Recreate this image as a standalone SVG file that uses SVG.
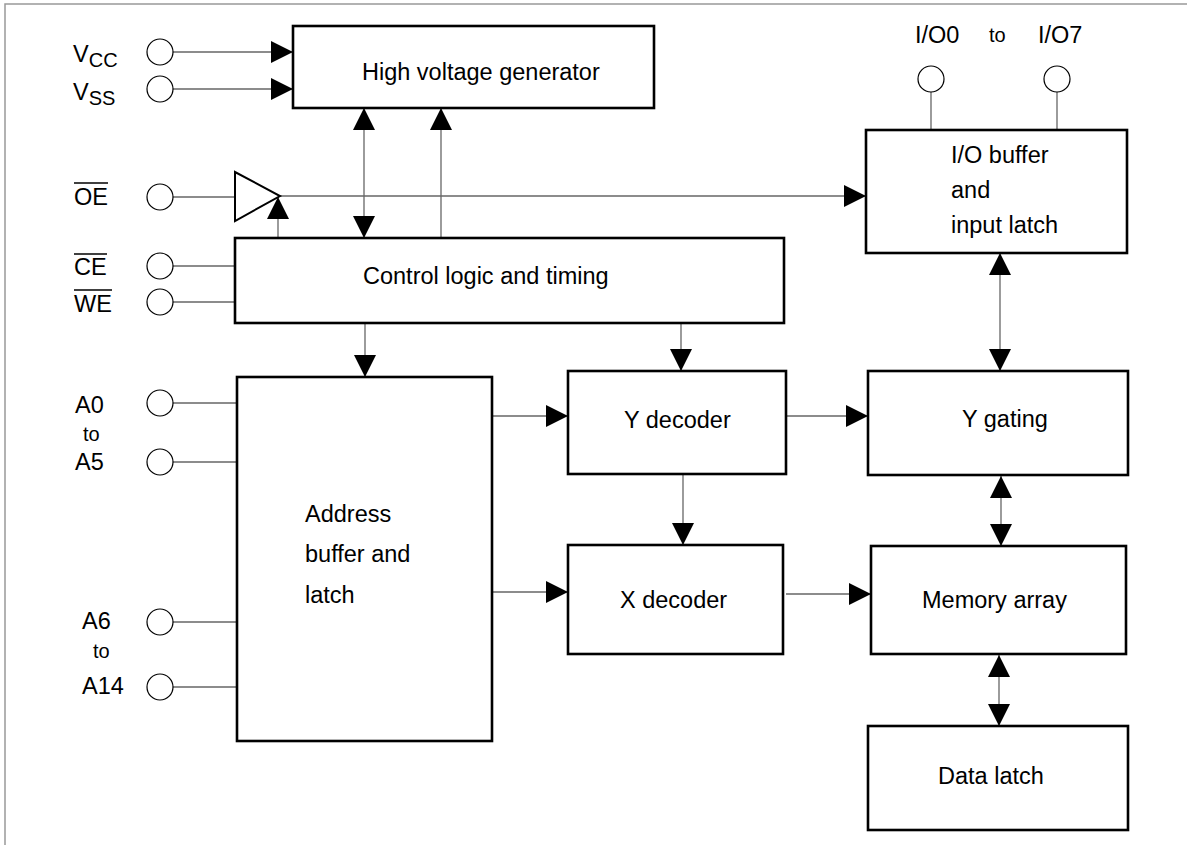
<svg xmlns="http://www.w3.org/2000/svg" width="1187" height="845" viewBox="0 0 1187 845">
<style>
.box{fill:#fff;stroke:#000;stroke-width:2.6}
.pin{fill:#fff;stroke:#000;stroke-width:1.2}
.w{fill:none;stroke:#666;stroke-width:1.3}
.t{font-family:"Liberation Sans",Arial,sans-serif;font-size:23.5px;fill:#000}
.s{font-family:"Liberation Sans",Arial,sans-serif;font-size:20px;fill:#000}
.ov{stroke:#000;stroke-width:1.6}
</style>
<defs>
<marker id="ah" markerUnits="userSpaceOnUse" markerWidth="22" markerHeight="22" refX="22" refY="11" orient="auto-start-reverse" viewBox="0 0 22 22">
<path d="M0,0 L22,11 L0,22 z" fill="#000"/>
</marker>
</defs>
<rect width="1187" height="845" fill="#fff"/>
<path d="M5,845 V4 H1187" fill="none" stroke="#999" stroke-width="1.5"/>

<g id="connectors">
<line class="w" x1="173" y1="52" x2="293" y2="52" marker-end="url(#ah)"/>
<line class="w" x1="173" y1="89" x2="293" y2="89" marker-end="url(#ah)"/>
<line class="w" x1="173" y1="197" x2="235" y2="197"/>
<line class="w" x1="280" y1="196" x2="866" y2="196" marker-end="url(#ah)"/>
<line class="w" x1="278" y1="238" x2="278" y2="197" marker-end="url(#ah)"/>
<line class="w" x1="364" y1="108" x2="364" y2="238" marker-start="url(#ah)" marker-end="url(#ah)"/>
<line class="w" x1="441" y1="238" x2="441" y2="108" marker-end="url(#ah)"/>
<line class="w" x1="173" y1="266" x2="235" y2="266"/>
<line class="w" x1="173" y1="302" x2="235" y2="302"/>
<line class="w" x1="365" y1="323" x2="365" y2="377" marker-end="url(#ah)"/>
<line class="w" x1="681" y1="323" x2="681" y2="371" marker-end="url(#ah)"/>
<line class="w" x1="173" y1="403" x2="237" y2="403"/>
<line class="w" x1="173" y1="462" x2="237" y2="462"/>
<line class="w" x1="173" y1="622" x2="237" y2="622"/>
<line class="w" x1="173" y1="687" x2="237" y2="687"/>
<line class="w" x1="492" y1="416" x2="568" y2="416" marker-end="url(#ah)"/>
<line class="w" x1="492" y1="592" x2="568" y2="592" marker-end="url(#ah)"/>
<line class="w" x1="786" y1="416" x2="868" y2="416" marker-end="url(#ah)"/>
<line class="w" x1="683" y1="474" x2="683" y2="545" marker-end="url(#ah)"/>
<line class="w" x1="786" y1="594" x2="871" y2="594" marker-end="url(#ah)"/>
<line class="w" x1="931" y1="92" x2="931" y2="130"/>
<line class="w" x1="1057" y1="92" x2="1057" y2="130"/>
<line class="w" x1="1000" y1="253" x2="1000" y2="371" marker-start="url(#ah)" marker-end="url(#ah)"/>
<line class="w" x1="1001" y1="476" x2="1001" y2="546" marker-start="url(#ah)" marker-end="url(#ah)"/>
<line class="w" x1="999" y1="655" x2="999" y2="726" marker-start="url(#ah)" marker-end="url(#ah)"/>
</g>

<g id="pins">
<circle class="pin" cx="160" cy="52" r="13"/>
<circle class="pin" cx="160" cy="89" r="13"/>
<circle class="pin" cx="160" cy="197" r="13"/>
<circle class="pin" cx="160" cy="266" r="13"/>
<circle class="pin" cx="160" cy="302" r="13"/>
<circle class="pin" cx="160" cy="403" r="13"/>
<circle class="pin" cx="160" cy="462" r="13"/>
<circle class="pin" cx="160" cy="622" r="13"/>
<circle class="pin" cx="160" cy="687" r="13"/>
<circle class="pin" cx="931" cy="79" r="13"/>
<circle class="pin" cx="1057" cy="79" r="13"/>
</g>

<g id="pin-labels">
<text class="t" x="73" y="62" font-size="25">V<tspan font-size="20" dy="5">CC</tspan></text>
<text class="t" x="73" y="100" font-size="25">V<tspan font-size="20" dy="5">SS</tspan></text>
<text class="t" x="74" y="205">OE</text>
<line class="ov" x1="74" y1="183" x2="108" y2="183"/>
<text class="t" x="74" y="275">CE</text>
<line class="ov" x1="74" y1="254" x2="107" y2="254"/>
<text class="t" x="74" y="312">WE</text>
<line class="ov" x1="74" y1="290" x2="112" y2="290"/>
<text class="t" x="75" y="413">A0</text>
<text class="s" x="83" y="441">to</text>
<text class="t" x="75" y="470">A5</text>
<text class="t" x="82" y="629">A6</text>
<text class="s" x="93" y="658">to</text>
<text class="t" x="82" y="694">A14</text>
<text class="t" x="915" y="43">I/O0</text>
<text class="s" x="989" y="42">to</text>
<text class="t" x="1038" y="43">I/O7</text>
</g>

<g id="hv-gen">
<rect class="box" x="293" y="26" width="361" height="82"/>
<text class="t" x="362" y="80">High voltage generator</text>
</g>

<g id="oe-buffer">
<polygon points="235,172 235,221 280,196" fill="#fff" stroke="#000" stroke-width="2"/>
</g>

<g id="control-logic">
<rect class="box" x="235" y="238" width="549" height="85"/>
<text class="t" x="363" y="284">Control logic and timing</text>
</g>

<g id="io-buffer">
<rect class="box" x="866" y="130" width="261" height="123"/>
<text class="t" x="951" y="163">I/O buffer</text>
<text class="t" x="951" y="198">and</text>
<text class="t" x="951" y="233">input latch</text>
</g>

<g id="address-buffer">
<rect class="box" x="237" y="377" width="255" height="364"/>
<text class="t" x="305" y="522">Address</text>
<text class="t" x="305" y="562">buffer and</text>
<text class="t" x="305" y="603">latch</text>
</g>

<g id="y-decoder">
<rect class="box" x="568" y="371" width="218" height="103"/>
<text class="t" x="624" y="428">Y decoder</text>
</g>

<g id="x-decoder">
<rect class="box" x="568" y="545" width="215" height="109"/>
<text class="t" x="620" y="608">X decoder</text>
</g>

<g id="y-gating">
<rect class="box" x="868" y="371" width="260" height="104"/>
<text class="t" x="962" y="427">Y gating</text>
</g>

<g id="memory-array">
<rect class="box" x="871" y="546" width="255" height="108"/>
<text class="t" x="922" y="608">Memory array</text>
</g>

<g id="data-latch">
<rect class="box" x="868" y="726" width="260" height="104"/>
<text class="t" x="938" y="784">Data latch</text>
</g>
</svg>
